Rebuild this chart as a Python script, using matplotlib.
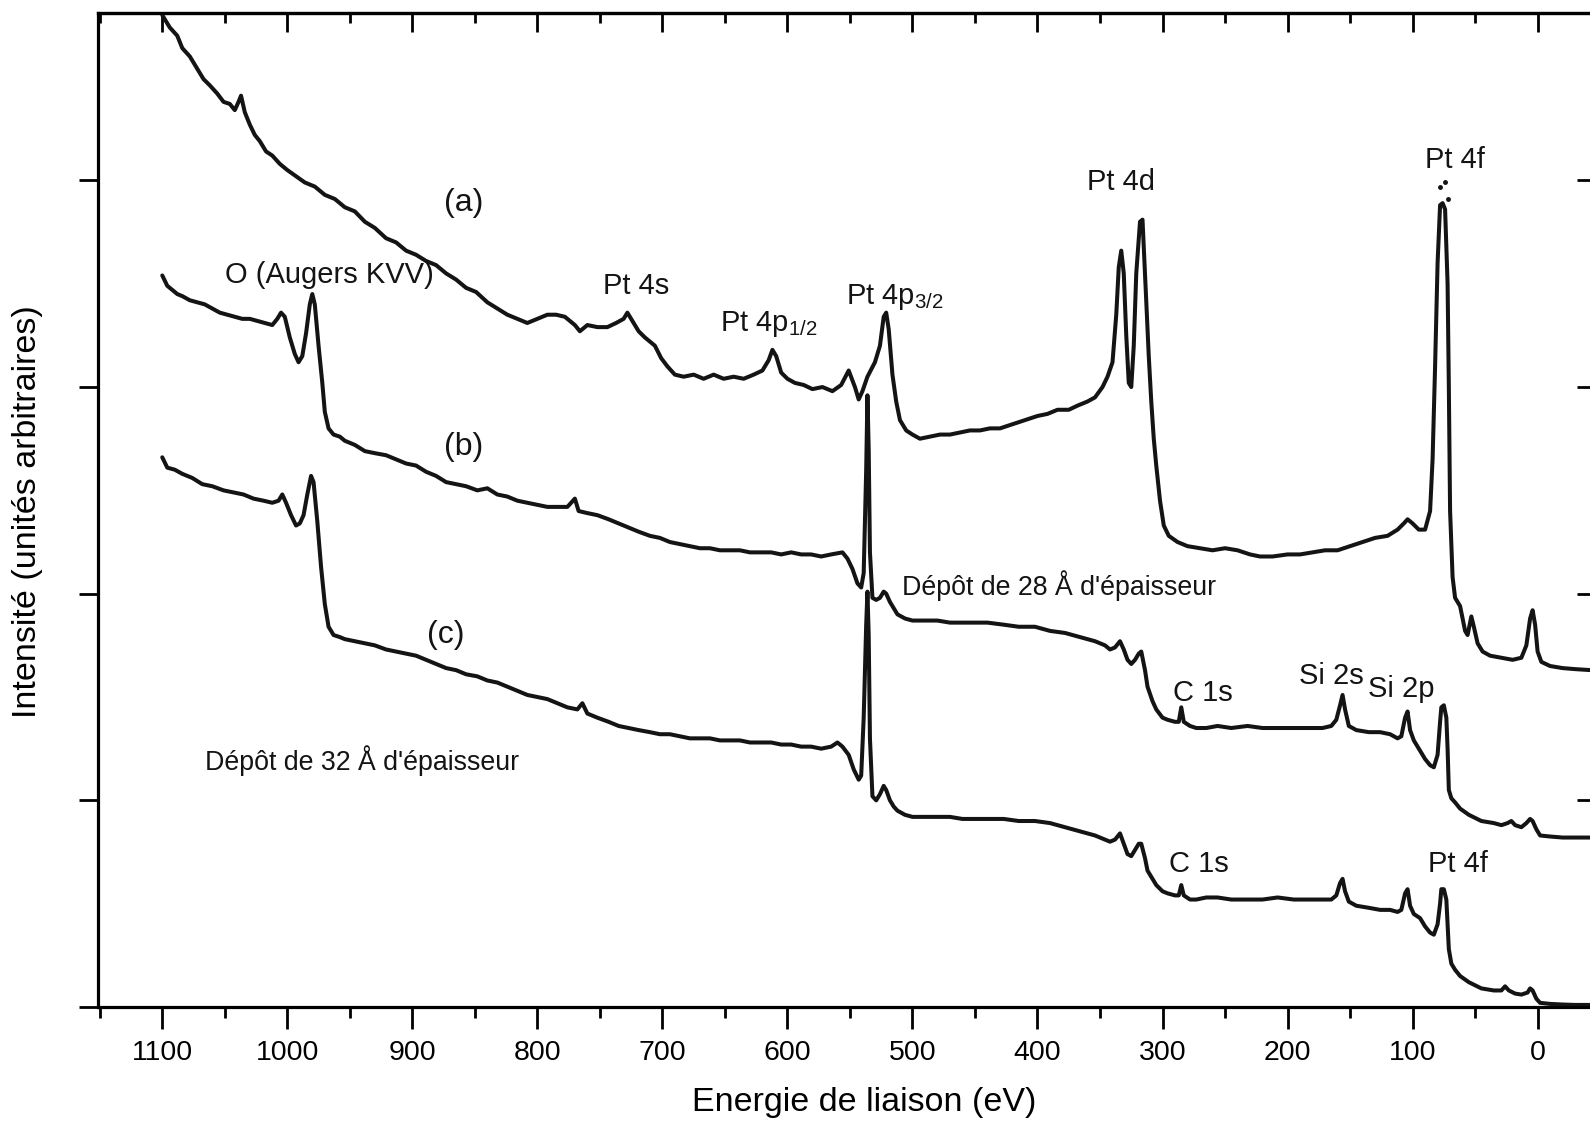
import matplotlib
matplotlib.use('Agg')
import matplotlib.pyplot as plt
from matplotlib.ticker import MultipleLocator

plt.rcParams['font.family'] = ['Liberation Sans', 'DejaVu Sans']
plt.rcParams['mathtext.fontset'] = 'custom'
plt.rcParams['mathtext.rm'] = 'Liberation Sans'
plt.rcParams['mathtext.it'] = 'Liberation Sans:italic'

# ---- spectrum (a) : energy (eV) / intensity (arb. units, offset included) ----
energy_a = [1100, 1094, 1088, 1084, 1078, 1072, 1067, 1062, 1056, 1051, 1046, 1042, 1039, 1037, 1034,
            1030, 1026, 1022, 1017, 1012, 1006, 1000, 993, 986, 978, 970, 962, 954, 946, 938, 930,
            921, 913, 905, 897, 889, 881, 873, 865, 857, 849, 840, 832, 824, 816, 808, 800, 792,
            785, 778, 770, 766, 760, 752, 744, 737, 731, 728, 724, 719, 714, 710, 706, 701, 696,
            690, 683, 675, 667, 659, 651, 643, 635, 627, 620, 615, 612, 609, 605, 600, 594, 587,
            580, 572, 564, 557, 551, 546, 543, 540, 536, 530, 526, 523, 521, 519, 516, 513, 510,
            505, 500, 494, 486, 478, 470, 462, 454, 446, 438, 430, 420, 410, 400, 392, 384, 375,
            368, 360, 354, 348, 344, 340, 337, 335, 333, 331, 329, 327, 325, 323, 321, 318, 316,
            314, 311, 309, 307, 305, 302, 299, 295, 288, 280, 270, 260, 250, 240, 230, 222, 212,
            200, 190, 180, 170, 160, 150, 140, 130, 120, 112, 107, 104, 100, 95, 90, 86, 84, 82,
            80, 78, 76, 74, 72, 71, 70, 68, 66, 62, 58, 56, 53, 51, 48, 44, 38, 29, 20, 13, 9, 6,
            4, 2, 0, -3, -10, -20, -30, -43]
intensity_a = [4.80, 4.74, 4.70, 4.64, 4.60, 4.54, 4.49, 4.46, 4.42, 4.38, 4.37, 4.34, 4.38, 4.41, 4.33,
               4.27, 4.22, 4.19, 4.14, 4.12, 4.08, 4.05, 4.02, 3.99, 3.97, 3.93, 3.91, 3.87, 3.85, 3.80, 3.77,
               3.72, 3.70, 3.66, 3.64, 3.61, 3.59, 3.55, 3.52, 3.48, 3.46, 3.41, 3.38, 3.35, 3.33, 3.31, 3.33, 3.35,
               3.35, 3.34, 3.30, 3.27, 3.30, 3.29, 3.29, 3.31, 3.33, 3.36, 3.32, 3.27, 3.24, 3.22, 3.20, 3.14, 3.10,
               3.06, 3.05, 3.06, 3.04, 3.06, 3.04, 3.05, 3.04, 3.06, 3.08, 3.13, 3.18, 3.15, 3.07, 3.04, 3.02, 3.01,
               2.99, 3.00, 2.98, 3.01, 3.08, 3.00, 2.94, 2.98, 3.05, 3.12, 3.20, 3.34, 3.36, 3.28, 3.06, 2.93, 2.84,
               2.79, 2.77, 2.75, 2.76, 2.77, 2.77, 2.78, 2.79, 2.79, 2.80, 2.80, 2.82, 2.84, 2.86, 2.87, 2.89, 2.89,
               2.91, 2.93, 2.95, 3.00, 3.05, 3.12, 3.35, 3.58, 3.66, 3.55, 3.25, 3.02, 3.00, 3.20, 3.55, 3.80, 3.81,
               3.55, 3.15, 2.93, 2.75, 2.62, 2.45, 2.33, 2.28, 2.25, 2.23, 2.22, 2.21, 2.22, 2.21, 2.19, 2.18, 2.18,
               2.19, 2.19, 2.20, 2.21, 2.21, 2.23, 2.25, 2.27, 2.28, 2.31, 2.34, 2.36, 2.34, 2.31, 2.31, 2.40, 2.65, 3.10,
               3.60, 3.88, 3.89, 3.86, 3.50, 3.00, 2.40, 2.08, 1.98, 1.94, 1.82, 1.80, 1.89, 1.84, 1.76, 1.72, 1.70, 1.69, 1.68, 1.69, 1.75, 1.88,
               1.92, 1.85, 1.72, 1.67, 1.65, 1.64, 1.635, 1.63]
dots_energy_a = [78, 74, 72]
dots_intensity_a = [3.97, 3.99, 3.91]

# ---- spectrum (b) : 28 A deposit ----
energy_b = [1100, 1096, 1092, 1088, 1084, 1078, 1072, 1066, 1060, 1054, 1048, 1042, 1036, 1030, 1024,
            1018, 1012, 1008, 1005, 1002, 998, 994, 991, 988, 985, 982, 980, 978, 975, 972, 970, 967,
            963, 958, 954, 946, 938, 930, 921, 913, 905, 897, 889, 881, 873, 865, 857, 848, 840, 832,
            824, 816, 808, 800, 792, 784, 776, 770, 767, 760, 752, 743, 735, 727, 719, 710, 702, 694,
            686, 678, 670, 662, 654, 646, 638, 630, 621, 613, 605, 597, 589, 581, 573, 565, 556, 552,
            548, 544, 541, 539, 537, 536, 535, 534, 532, 529, 526, 523, 521, 518, 515, 512, 506, 500,
            490, 480, 470, 460, 450, 440, 427, 415, 402, 390, 378, 366, 354, 346, 342, 338, 334, 331,
            328, 325, 322, 319, 317, 314, 312, 308, 305, 300, 296, 290, 287, 285, 283, 278, 273, 265,
            256, 245, 232, 220, 208, 195, 183, 172, 165, 161, 158, 156, 154, 151, 145, 135, 126, 118,
            112, 109, 106, 104, 102, 99, 94, 90, 86, 83, 80, 78, 77, 75, 73, 72, 71, 69, 66, 62, 55,
            45, 35, 29, 24, 21, 18, 13, 9, 6, 4, 1, -2, -10, -20, -30, -43]
intensity_b = [3.54, 3.49, 3.47, 3.45, 3.44, 3.42, 3.41, 3.40, 3.38, 3.36, 3.35, 3.34, 3.33, 3.33, 3.32,
               3.31, 3.30, 3.33, 3.36, 3.34, 3.24, 3.16, 3.12, 3.15, 3.26, 3.40, 3.45, 3.40, 3.20, 3.02, 2.88, 2.80,
               2.77, 2.76, 2.74, 2.72, 2.69, 2.68, 2.67, 2.65, 2.63, 2.62, 2.59, 2.57, 2.54, 2.53, 2.52, 2.50, 2.51, 2.48,
               2.47, 2.45, 2.44, 2.43, 2.42, 2.42, 2.42, 2.46, 2.40, 2.39, 2.38, 2.36, 2.34, 2.32, 2.30, 2.28, 2.27, 2.25,
               2.24, 2.23, 2.22, 2.22, 2.21, 2.21, 2.21, 2.20, 2.20, 2.20, 2.19, 2.20, 2.19, 2.19, 2.18, 2.19, 2.20, 2.17,
               2.12, 2.05, 2.03, 2.10, 2.60, 2.96, 2.70, 2.20, 1.98, 1.97, 1.98, 2.01, 2.00, 1.96, 1.93, 1.90, 1.88, 1.87,
               1.87, 1.87, 1.86, 1.86, 1.86, 1.86, 1.85, 1.84, 1.84, 1.82, 1.81, 1.79, 1.77, 1.75, 1.73, 1.74, 1.77, 1.73,
               1.68, 1.66, 1.68, 1.71, 1.72, 1.63, 1.55, 1.48, 1.44, 1.40, 1.39, 1.38, 1.38, 1.45, 1.38, 1.36, 1.35, 1.35,
               1.36, 1.35, 1.36, 1.35, 1.35, 1.35, 1.35, 1.35, 1.36, 1.39, 1.46, 1.51, 1.44, 1.36, 1.34, 1.33, 1.33, 1.32,
               1.30, 1.31, 1.40, 1.43, 1.34, 1.29, 1.24, 1.20, 1.17, 1.16, 1.22, 1.38, 1.45, 1.46, 1.40, 1.25, 1.05, 1.01, 0.99, 0.96, 0.93,
               0.90, 0.89, 0.88, 0.89, 0.90, 0.88, 0.87, 0.89, 0.91, 0.90, 0.86, 0.83, 0.825, 0.82, 0.82, 0.82]

# ---- spectrum (c) : 32 A deposit ----
energy_c = [1100, 1096, 1090, 1084, 1076, 1068, 1060, 1051, 1043, 1035, 1027, 1019, 1012, 1007, 1004,
            1001, 997, 993, 990, 987, 984, 981, 979, 976, 973, 970, 967, 963, 958, 954, 946, 938, 930,
            921, 913, 905, 897, 889, 881, 873, 865, 857, 848, 840, 832, 824, 816, 808, 800, 792, 784,
            776, 768, 764, 760, 752, 743, 735, 727, 719, 710, 702, 694, 686, 678, 670, 662, 654, 646,
            638, 630, 621, 613, 605, 597, 589, 581, 573, 565, 560, 556, 551, 547, 543, 541, 539, 537,
            536, 535, 534, 532, 529, 526, 523, 521, 518, 515, 512, 506, 500, 490, 480, 470, 460, 450,
            440, 427, 415, 402, 390, 378, 366, 354, 346, 342, 338, 334, 331, 328, 325, 322, 319, 317,
            314, 312, 308, 305, 300, 296, 290, 287, 285, 283, 278, 273, 265, 256, 245, 232, 220, 208,
            195, 183, 172, 165, 161, 158, 156, 154, 151, 145, 135, 126, 118, 112, 109, 106, 104, 102,
            99, 94, 90, 86, 83, 80, 78, 77, 75, 73, 72, 71, 69, 66, 62, 55, 45, 35, 29, 26, 23, 18,
            13, 8, 6, 4, 1, -2, -10, -20, -30, -43]
intensity_c = [2.66, 2.61, 2.60, 2.58, 2.56, 2.53, 2.52, 2.50, 2.49, 2.48, 2.46, 2.45, 2.44, 2.45, 2.48,
               2.44, 2.38, 2.33, 2.34, 2.38, 2.48, 2.57, 2.54, 2.35, 2.13, 1.95, 1.84, 1.80, 1.79, 1.78, 1.77, 1.76, 1.75,
               1.73, 1.72, 1.71, 1.70, 1.68, 1.66, 1.64, 1.63, 1.61, 1.60, 1.58, 1.57, 1.55, 1.53, 1.51, 1.50, 1.49, 1.47,
               1.45, 1.44, 1.47, 1.42, 1.40, 1.38, 1.36, 1.35, 1.34, 1.33, 1.32, 1.32, 1.31, 1.30, 1.30, 1.30, 1.29, 1.29,
               1.29, 1.28, 1.28, 1.28, 1.27, 1.27, 1.26, 1.26, 1.25, 1.26, 1.28, 1.26, 1.22, 1.15, 1.10, 1.12, 1.40, 1.85,
               2.01, 1.80, 1.30, 1.02, 1.00, 1.03, 1.07, 1.05, 1.00, 0.97, 0.95, 0.93, 0.92, 0.92, 0.92, 0.92, 0.91, 0.91,
               0.91, 0.91, 0.90, 0.90, 0.89, 0.87, 0.85, 0.83, 0.81, 0.80, 0.81, 0.84, 0.79, 0.74, 0.73, 0.76, 0.79, 0.79,
               0.72, 0.66, 0.62, 0.59, 0.56, 0.55, 0.54, 0.54, 0.59, 0.54, 0.52, 0.52, 0.53, 0.53, 0.52, 0.52, 0.52, 0.53,
               0.52, 0.52, 0.52, 0.52, 0.54, 0.60, 0.62, 0.56, 0.51, 0.49, 0.48, 0.47, 0.47, 0.46, 0.47, 0.55, 0.57, 0.49,
               0.45, 0.43, 0.39, 0.36, 0.35, 0.40, 0.50, 0.57, 0.57, 0.52, 0.40, 0.28, 0.21, 0.18, 0.15, 0.12, 0.09, 0.08, 0.08, 0.10, 0.08, 0.065,
               0.06, 0.07, 0.09, 0.08, 0.04, 0.02, 0.015, 0.012, 0.01, 0.01]

x_major_ticks = [1100, 1000, 900, 800, 700, 600, 500, 400, 300, 200, 100, 0]
y_major_ticks = [0, 1, 2, 3, 4]

# ---- annotation texts: (text, energy, intensity) ----
peak_labels = [
    ("O (Augers KVV)", 966, 3.54),
    ("Pt 4s", 721, 3.49),
    ("Pt 4d", 333, 3.99),
    ("Pt 4f", 66, 4.10),
    ("C 1s", 268, 1.52),
    ("Si 2s", 165, 1.60),
    ("Si 2p", 109, 1.54),
    ("C 1s", 271, 0.69),
    ("Pt 4f", 64, 0.69),
]
sub_labels = [(r"Pt 4p$_{1/2}$", 654, 3.27), (r"Pt 4p$_{3/2}$", 553, 3.40)]
curve_labels = [("(a)", 859, 3.89), ("(b)", 859, 2.71), ("(c)", 873, 1.80)]
deposit_labels = [("Dépôt de 28 Å d'épaisseur", 508, 2.04), ("Dépôt de 32 Å d'épaisseur", 1066, 1.19)]

fig = plt.figure(figsize=(15.9, 11.25), dpi=100)
ax = fig.add_axes([98 / 1590, 1 - 1007 / 1125, (1592 - 98) / 1590, (1007 - 13) / 1125])

col = '#141414'
for e, i in [(energy_a, intensity_a), (energy_b, intensity_b), (energy_c, intensity_c)]:
    ax.plot(e, i, color=col, lw=2.9, solid_joinstyle='round', solid_capstyle='round')
ax.plot(dots_energy_a, dots_intensity_a, ls='none', marker='o', ms=2.5, color=col)

ax.set_xlim(1151.4, -43.5)
ax.set_ylim(0, 4.81)

for s in ax.spines.values():
    s.set_linewidth(2.3)

ax.set_xticks(x_major_ticks)
ax.xaxis.set_minor_locator(MultipleLocator(50))
ax.set_yticks(y_major_ticks)
ax.tick_params(axis='x', which='major', direction='out', length=16, width=2, labelsize=20.5, pad=8)
ax.tick_params(axis='x', which='minor', direction='out', length=8, width=2)
ax.tick_params(axis='y', which='major', direction='out', length=14, width=2, labelleft=False)

top = ax.secondary_xaxis('top')
top.set_xticks(x_major_ticks)
top.xaxis.set_minor_locator(MultipleLocator(50))
top.tick_params(which='major', direction='in', length=14, width=2, labeltop=False)
top.tick_params(which='minor', direction='in', length=7, width=2)
top.spines['top'].set_linewidth(2.3)

right = ax.secondary_yaxis('right')
right.set_yticks([1, 2, 3, 4])
right.tick_params(which='major', direction='in', length=11, width=2, labelright=False)

ax.set_xlabel("Energie de liaison (eV)", fontsize=24.5, va='center')
ax.xaxis.set_label_coords(0.513, -0.0965)
ax.set_ylabel("Intensité (unités arbitraires)", fontsize=24.5, va='center')
ax.yaxis.set_label_coords(-0.047, 0.498)

for t, e, i in peak_labels:
    ax.text(e, i, t, fontsize=21, ha='center', va='center', color=col)
for t, e, i in sub_labels:
    ax.text(e, i, t, fontsize=21, ha='left', va='baseline', color=col)
for t, e, i in curve_labels:
    ax.text(e, i, t, fontsize=23, ha='center', va='center', color=col)
for t, e, i in deposit_labels:
    ax.text(e, i, t, fontsize=19.3, ha='left', va='center', color=col)

fig.savefig('out.png', dpi=100)
